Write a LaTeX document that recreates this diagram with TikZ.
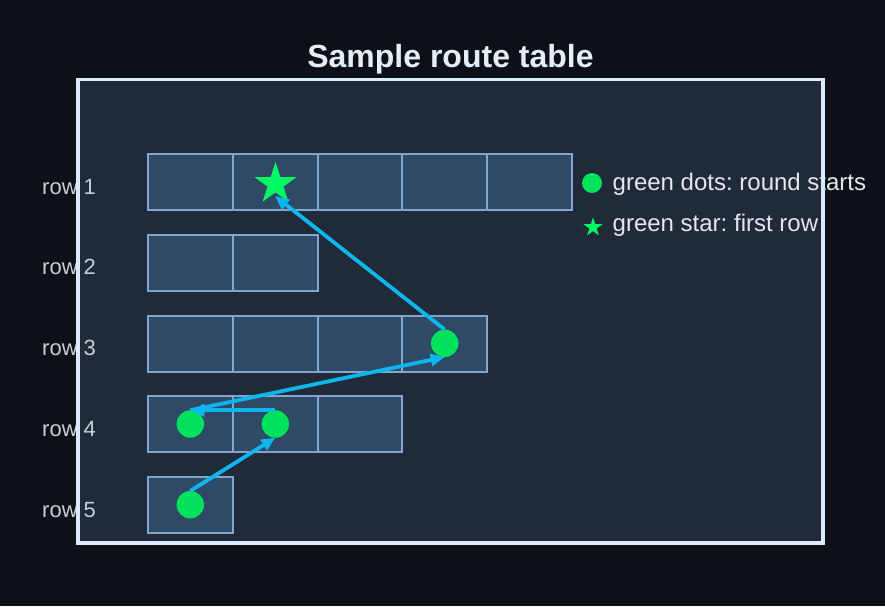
\documentclass[tikz,border=0pt]{standalone}
\usepackage{fontspec}
\setmainfont{Liberation Sans}
\usetikzlibrary{shapes.geometric,arrows.meta}
\definecolor{bg}{HTML}{0D1117}
\definecolor{panel}{HTML}{202A38}
\definecolor{panelline}{HTML}{DBEAFE}
\definecolor{cellfill}{HTML}{2E4A66}
\definecolor{cellline}{HTML}{7EA6CE}
\definecolor{titlecol}{HTML}{E5EDF8}
\definecolor{labcol}{HTML}{C5CFDB}
\definecolor{legcol}{HTML}{E2E8F0}
\definecolor{dotgreen}{HTML}{00E25C}
\definecolor{stargreen}{HTML}{00F862}
\definecolor{arrowcol}{HTML}{0EB6EE}
\frenchspacing
\begin{document}
\begin{tikzpicture}[x=1pt,y=-1pt,
  cell/.style={draw=cellline, fill=cellfill, line width=2pt, minimum width=84.8pt, minimum height=56pt, inner sep=0pt, outer sep=0pt, anchor=north west},
  rowlab/.style={text=labcol, font=\fontsize{22}{27}\selectfont, inner sep=0pt, anchor=base west},
  legtext/.style={text=legcol, font=\fontsize{24}{29}\selectfont, inner sep=0pt, anchor=base west},
  gdot/.style={circle, fill=dotgreen, minimum size=27.5pt, inner sep=0pt, outer sep=0pt},
  gstar/.style={star, star points=5, star point ratio=2.618, fill=stargreen, inner sep=0pt, outer sep=0pt},
  route/.style={draw=arrowcol, line width=3.8pt, -{Triangle[length=14pt,width=12pt]}}
]
\useasboundingbox (0,0) rectangle (885,606);
\fill[bg] (0,0) rectangle (885,606);
% panel
\fill[panel] (78,79.3) rectangle (823,543);
% title
\node[text=titlecol, font=\bfseries\fontsize{32}{38}\selectfont, inner sep=0pt, anchor=base] (title) at (450.5,67) {Sample route table};
% row labels
\foreach \r in {1,...,5} {
  \node[rowlab] (l\r) at (42, {194+80.75*(\r-1)}) {row \r};
}
% cells
\foreach \r/\n in {1/5,2/2,3/4,4/3,5/1} {
  \foreach \c in {1,...,\n} {
    \node[cell] (c\r\c) at ({148+84.8*(\c-1)}, {154+80.75*(\r-1)}) {};
  }
}
% legend
\node[circle, fill=dotgreen, minimum size=20pt, inner sep=0pt] (legdot) at (592,183) {};
\node[gstar, minimum size=20pt] (legstar) at (593,227.3) {};
\node[legtext] (legt1) at (612.5,190) {green dots: round starts};
\node[legtext] (legt2) at (612.5,231.5) {green star: first row};
% panel border
\draw[panelline, line width=3.6pt] (78,79.3) rectangle (823,543);
% markers
\node[gstar, minimum size=44pt] (s) at (275.5,184) {};
\node[gdot] (d5) at (190.3,504.7) {};
\node[gdot] (d4a) at (190.3,424) {};
\node[gdot] (d4b) at (275.3,424) {};
\node[gdot] (d3) at (444.7,343.3) {};
\coordinate (stip) at (275,196);
% route arrows
\draw[route] (d5.north) -- (d4b.south);
\draw[route] (d4b.north) -- (d4a.north);
\draw[route] (d4a.north) -- (d3.south);
\draw[route] (d3.north) -- (stip);
\end{tikzpicture}
\end{document}
